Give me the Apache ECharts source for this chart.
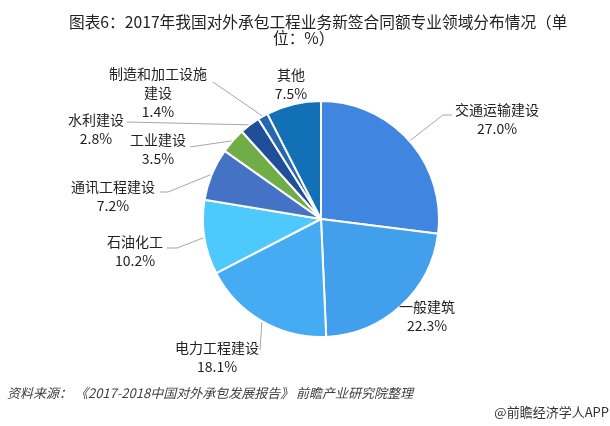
<!DOCTYPE html>
<html>
<head>
<meta charset="utf-8">
<script src="https://cdn.jsdelivr.net/npm/echarts@6/dist/echarts.min.js"></script>
<style>
html,body{margin:0;padding:0;background:#fff;}
#main{width:610px;height:426px;}
</style>
</head>
<body>
<div id="main"></div>
<script>
const categories = ['交通运输建设','一般建筑','电力工程建设','石油化工','通讯工程建设','工业建设','水利建设','制造和加工设施建设','其他'];
const shares = [27.0, 22.3, 18.1, 10.2, 7.2, 3.5, 2.8, 1.4, 7.5];
const titleLine1 = '图表6：2017年我国对外承包工程业务新签合同额专业领域分布情况（单';
const titleLine2 = '位：%）';
const sourceText = '资料来源： 《2017-2018中国对外承包发展报告》 前瞻产业研究院整理';
const creditText = '@前瞻经济学人APP';

const colors = ['#4086e0','#429fec','#45abf2','#4dc9fd','#4472c4','#70ad47','#1e4f98','#2766b0','#1170b6'];
// label anchor: [centerX, topY]; leader line extra points after edge start point
const labelPos = [[497,100],[427,297],[217,338],[135,232],[113,177],[158,130],[96,110],[158,64],[291,65]];
const leaderPts = [[[443,115],[452,115]],[],[[260,350]],[[177,248],[167,248]],[[168,192],[160,192]],[[190,147]],[[127,122]],[[213,82]],[]];

const chart = echarts.init(document.getElementById('main'));
const FONT = '"Noto Sans CJK SC", "Noto Sans", sans-serif';
chart.setOption({
  animation: false,
  title: [
    {text: titleLine1, left: 64, top: 9, textStyle: {fontSize: 15.7, fontWeight: 'normal', color: '#222', fontFamily: FONT}},
    {text: titleLine2, left: 268, top: 25, textStyle: {fontSize: 15.7, fontWeight: 'normal', color: '#222', fontFamily: FONT}}
  ],
  graphic: [
    {type: 'text', left: 7, top: 387, style: {text: sourceText, font: 'italic 13px ' + FONT, fill: '#404040'}},
    {type: 'text', right: 1, top: 406, style: {text: creditText, font: '13px ' + FONT, fill: '#333'}}
  ],
  series: [{
    type: 'pie',
    center: [321, 219],
    radius: 118,
    startAngle: 90,
    clockwise: true,
    avoidLabelOverlap: false,
    itemStyle: {borderColor: '#fff', borderWidth: 2},
    data: categories.map((c, i) => ({name: c, value: shares[i], itemStyle: {color: colors[i]}})),
    label: {
      show: true,
      position: 'outside',
      fontSize: 14,
      lineHeight: 19,
      color: '#222',
      fontFamily: FONT,
      align: 'center',
      formatter: p => {
        const n = p.name.length > 7 ? p.name.slice(0, 7) + '\n' + p.name.slice(7) : p.name;
        return n + '\n' + p.value.toFixed(1) + '%';
      }
    },
    labelLine: {show: true, length: 10, length2: 10, lineStyle: {color: '#a6a6a6', width: 1}},
    labelLayout: function (params) {
      const i = params.dataIndex;
      const start = params.labelLinePoints ? params.labelLinePoints[0] : [0,0];
      const pts = [start].concat(leaderPts[i]);
      if (pts.length === 1) pts.push(start.slice());
      return {
        x: labelPos[i][0], y: labelPos[i][1], align: 'center', verticalAlign: 'top',
        labelLinePoints: pts
      };
    }
  }]
});
</script>
</body>
</html>
